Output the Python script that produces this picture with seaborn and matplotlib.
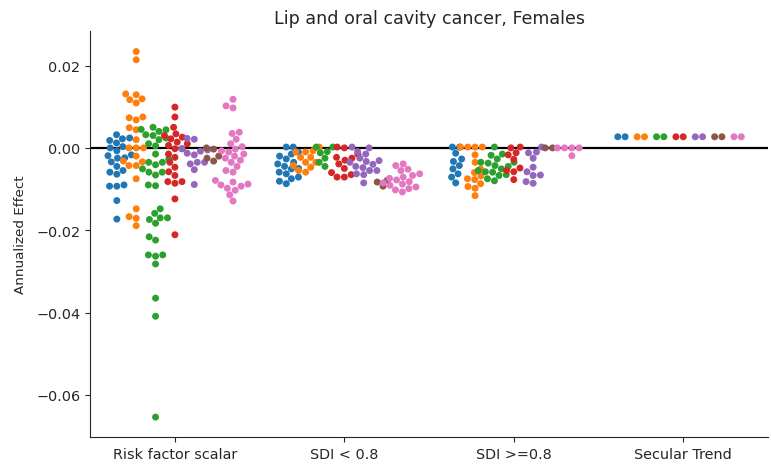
import matplotlib
matplotlib.use('Agg')
import matplotlib.pyplot as plt
import pandas as pd
import seaborn as sns
import warnings

warnings.filterwarnings('ignore')

CATEGORIES = ['Risk factor scalar', 'SDI < 0.8', 'SDI >=0.8', 'Secular Trend']
GROUPS = ['g1', 'g2', 'g3', 'g4', 'g5', 'g6', 'g7']
TITLE = 'Lip and oral cavity cancer, Females'

# values per group (tab10 order: blue, orange, green, red, purple, brown, pink)
RISK_FACTOR = [
    [0.0032, 0.0022, 0.0024, 0.0012, 0.0003, 0.0, 0.0018, -0.0007, -0.0019, -0.0024,
     -0.0025, -0.0017, -0.0034, -0.0045, -0.0059, -0.0064, -0.0055, -0.0093, -0.0093,
     -0.0090, -0.0128, -0.0173],
    [0.0234, 0.0214, 0.0131, 0.0117, 0.0109, 0.0129, 0.0119, 0.0075, 0.0068, 0.0073,
     0.0049, 0.0044, 0.0020, 0.0, 0.0, 0.0, -0.0020, -0.0032, -0.0043, -0.0043,
     -0.0075, -0.0034, -0.0148, -0.0171, -0.0167, -0.0189],
    [0.0044, 0.0050, 0.0032, 0.0024, 0.0010, 0.0045, 0.0040, 0.0030, 0.0020, 0.0005,
     -0.0015, -0.0027, -0.0035, -0.0041, -0.0051, -0.0059, -0.0066, -0.0035, -0.0059,
     -0.0090, -0.0092, -0.0148, -0.0159, -0.0174, -0.0183, -0.0170, -0.0170, -0.0216,
     -0.0224, -0.0263, -0.0260, -0.0260, -0.0282, -0.0365, -0.0409, -0.0654],
    [0.0099, 0.0075, 0.0050, 0.0034, 0.0026, 0.0030, 0.0022, 0.0014, 0.0006, -0.0002,
     -0.0015, 0.0010, -0.0002, -0.0023, -0.0035, -0.0047, -0.0058, -0.0067, -0.0082,
     -0.0082, -0.0086, -0.0124, -0.0211],
    [0.0023, 0.0021, -0.0002, -0.0013, -0.0017, -0.0039, -0.0035, -0.0035, -0.0053,
     -0.0089, -0.0005, -0.0008],
    [0.0, -0.0003, -0.0025, -0.0032, -0.0020],
    [0.0118, 0.0102, 0.0097, 0.0038, 0.0035, 0.0021, 0.0010, 0.0003, -0.0003, -0.0007,
     -0.0010, -0.0015, -0.0020, -0.0025, -0.0030, -0.0035, -0.0045, -0.0055, -0.0059,
     -0.0079, -0.0083, -0.0088, -0.0090, -0.0093, -0.0098, -0.0114, -0.0103, -0.0129],
]
SDI_LOW = [
    [0.0002, 0.0002, -0.0015, -0.0027, -0.0039, -0.0051, -0.0063, -0.0075, -0.0081,
     -0.0035, -0.0059, -0.0087, -0.0020, -0.0071, -0.0050, -0.0045, -0.0010],
    [0.0002, -0.0010, -0.0023, -0.0035, -0.0047, -0.0010, -0.0035, -0.0059, -0.0007,
     -0.0023, -0.0043, -0.0055],
    [0.0002, -0.0009, 0.0002, -0.0035, -0.0045, -0.0025, -0.0012],
    [0.0002, 0.0, -0.0015, -0.0023, -0.0030, -0.0039, -0.0050, -0.0065, -0.0071,
     -0.0071, -0.0060, -0.0025],
    [0.0002, -0.0009, 0.0, -0.0025, -0.0033, -0.0040, -0.0048, -0.0055, -0.0063,
     -0.0031, -0.0055, -0.0015, -0.0035, -0.0045, -0.0065, -0.0085],
    [-0.0079, -0.0093, -0.0083],
    [-0.0039, -0.0043, -0.0052, -0.0055, -0.0063, -0.0067, -0.0071, -0.0074, -0.0078,
     -0.0082, -0.0085, -0.0088, -0.0091, -0.0095, -0.0099, -0.0102, -0.0107],
]
SDI_HIGH = [
    [0.0002, 0.0002, -0.0013, -0.0033, -0.0043, -0.0027, -0.0051, -0.0071, -0.0063,
     -0.0085],
    [0.0002, 0.0002, 0.0002, 0.0002, -0.0017, -0.0035, -0.0060, -0.0068, -0.0077,
     -0.0087, -0.0051, -0.0075, -0.0098, -0.0094, -0.0116],
    [0.0002, -0.0015, -0.0027, -0.0035, -0.0043, -0.0051, -0.0059, -0.0067, -0.0075,
     -0.0058, -0.0080, -0.0037, -0.0035, -0.0045, -0.0055, -0.0065, -0.0018],
    [0.0002, 0.0, -0.0017, -0.0028, -0.0012, -0.0058, -0.0055, -0.0077, -0.0049],
    [0.0002, -0.0012, -0.0025, -0.0010, -0.0047, -0.0058, -0.0067, -0.0066, -0.0082,
     -0.0086],
    [0.0, 0.0],
    [0.0, 0.0, 0.0, 0.0, -0.0019],
]
SECULAR = [[0.0027, 0.0027] for _ in GROUPS]

rows = []
for cat, block in zip(CATEGORIES, [RISK_FACTOR, SDI_LOW, SDI_HIGH, SECULAR]):
    for grp, vals in zip(GROUPS, block):
        for v in vals:
            rows.append({'component': cat, 'group': grp, 'effect': v})
df = pd.DataFrame(rows)

sns.set_style('ticks')
fig, ax = plt.subplots(figsize=(7.71, 4.77), dpi=100)
sns.swarmplot(data=df, x='component', y='effect', hue='group', order=CATEGORIES,
              hue_order=GROUPS, palette='tab10', dodge=True, size=5, ax=ax,
              legend=False)
ax.axhline(0, color='black', lw=1.6)
ax.set_ylim(-0.0702, 0.0284)
ax.set_yticks([0.02, 0.0, -0.02, -0.04, -0.06])
ax.set_title(TITLE, fontsize=12.6)
ax.set_ylabel('Annualized Effect', fontsize=9.7, labelpad=7)
ax.set_xlabel('')
ax.tick_params(labelsize=10.4)
sns.despine(ax=ax)
fig.subplots_adjust(left=0.117, right=0.996, top=0.933, bottom=0.082)
fig.savefig('out.png', dpi=100)
